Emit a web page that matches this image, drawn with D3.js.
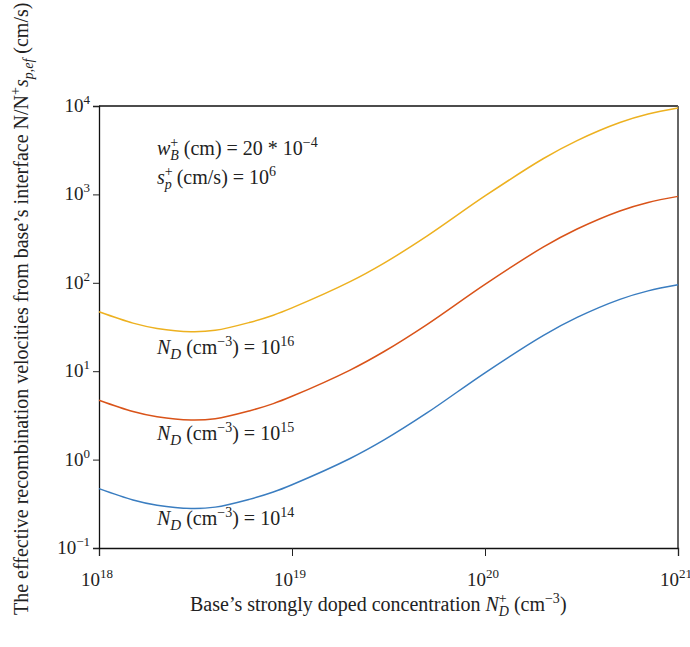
<!DOCTYPE html>
<html>
<head>
<meta charset="utf-8">
<script src="https://cdn.jsdelivr.net/npm/d3@7"></script>
<style>
  body { margin: 0; background: #fff; }
  svg text { font-family: "Liberation Serif", "DejaVu Serif", serif; fill: #222; }
</style>
</head>
<body>
<svg id="chart" width="690" height="647"></svg>
<script>
// Base doping N_D+ (cm^-3)
const dopings = [1e18, 1.5e18, 2e18, 3e18, 4e18, 6e18, 8e18, 1e19, 2e19, 3e19, 5e19, 1e20, 2e20, 3e20, 5e20, 7e20, 1e21];
// N/N+ s_p,ef (cm/s) for each N_D
const nd14 = [0.47, 0.35, 0.305, 0.28, 0.29, 0.355, 0.43, 0.52, 1.03, 1.67, 3.37, 9.6, 25.3, 40.6, 65, 81, 95];
const nd15 = [4.7, 3.5, 3.05, 2.8, 2.9, 3.55, 4.3, 5.2, 10.3, 16.7, 33.7, 96, 253, 406, 650, 810, 950];
const nd16 = [47, 35, 30.5, 28, 29, 35.5, 43, 52, 103, 167, 337, 960, 2530, 4060, 6500, 8100, 9500];

const seriesNames = ["14", "15", "16"];
const seriesColors = ["#3a7dc0", "#d95319", "#edb120"];

const xMajor = [18, 19, 20, 21];
const yMajor = [-1, 0, 1, 2, 3, 4];

const svg = d3.select("#chart");
const plotL = 99, plotR = 678, plotT = 106, plotB = 548;

const x = d3.scaleLog().domain([1e18, 1e21]).range([plotL, plotR]);
const y = d3.scaleLog().domain([0.1, 1e4]).range([plotB, plotT]);

// minor ticks (2..9 per decade)
const xMinor = [];
for (let e = 18; e < 21; e++) for (let m = 2; m < 10; m++) xMinor.push(m * Math.pow(10, e));
const yMinor = [];
for (let e = -1; e < 4; e++) for (let m = 2; m < 10; m++) yMinor.push(m * Math.pow(10, e));

// frame top + right
svg.append("line").attr("x1", plotL).attr("x2", plotR).attr("y1", plotT).attr("y2", plotT)
  .attr("stroke", "#111").attr("stroke-width", 1.3);
svg.append("line").attr("x1", plotR).attr("x2", plotR).attr("y1", plotT).attr("y2", plotB)
  .attr("stroke", "#666").attr("stroke-width", 2);

// x axis
const gx = svg.append("g").attr("transform", `translate(0,${plotB})`);
gx.call(d3.axisBottom(x).tickValues(xMinor).tickSize(5).tickFormat(""));
gx.call(d3.axisBottom(x).tickValues(xMajor.map(e => Math.pow(10, e))).tickSize(8).tickFormat(""));
gx.selectAll("path.domain").attr("stroke", "#111").attr("stroke-width", 1.3);
gx.selectAll(".tick line").attr("stroke", "#222");

// y axis
const gy = svg.append("g").attr("transform", `translate(${plotL},0)`);
gy.call(d3.axisLeft(y).tickValues(yMinor).tickSize(4).tickFormat(""));
gy.call(d3.axisLeft(y).tickValues(yMajor.map(e => Math.pow(10, e))).tickSize(6).tickFormat(""));
gy.selectAll("path.domain").attr("stroke", "#111").attr("stroke-width", 1.3);
gy.selectAll(".tick line").attr("stroke", "#222");

function powLabel(sel, exp) {
  sel.append("tspan").text("10");
  sel.append("tspan").attr("dy", "-8px").attr("font-size", "13px").text(exp < 0 ? "\u2212" + (-exp) : exp);
}

xMajor.forEach(e => {
  const t = svg.append("text").attr("x", x(Math.pow(10, e)) - 2).attr("y", 586)
    .attr("text-anchor", "middle").attr("font-size", "19px");
  powLabel(t, e);
});
yMajor.forEach(e => {
  const t = svg.append("text").attr("x", 90).attr("y", y(Math.pow(10, e)) + 6)
    .attr("text-anchor", "end").attr("font-size", "19px");
  powLabel(t, e);
});

// curves
const line = d3.line()
  .x(d => x(d[0]))
  .y(d => y(d[1]))
  .curve(d3.curveCatmullRom.alpha(0.5));

[nd14, nd15, nd16].forEach((vals, i) => {
  svg.append("path")
    .datum(dopings.map((d, j) => [d, vals[j]]))
    .attr("d", line)
    .attr("fill", "none")
    .attr("stroke", seriesColors[i])
    .attr("stroke-width", 1.5);
});

// text with sub/superscripts
function rich(xp, yp, parts, size) {
  const t = svg.append("text").attr("x", xp).attr("y", yp).attr("font-size", size + "px");
  parts.forEach(p => {
    const s = t.append("tspan").text(p.t);
    if (p.i) s.attr("font-style", "italic");
    if (p.dy) s.attr("dy", p.dy + "px");
    if (p.fs) s.attr("font-size", p.fs + "px");
    if (p.dx) s.attr("dx", p.dx + "px");
  });
  return t;
}

rich(157, 155, [
  { t: "w", i: 1 }, { t: "+", dy: -8, fs: 14 }, { t: "B", i: 1, dy: 13, dx: -8, fs: 14 },
  { t: " (cm) = 20 * 10", dy: -5 }, { t: "\u22124", dy: -8, fs: 14 }
], 20);
rich(157, 184, [
  { t: "s", i: 1 }, { t: "+", dy: -8, fs: 14 }, { t: "p", i: 1, dy: 13, dx: -8, fs: 14 },
  { t: " (cm/s) = 10", dy: -5 }, { t: "6", dy: -8, fs: 14 }
], 20);

const labelY = [525, 440, 354];
seriesNames.forEach((n, i) => {
  rich(157, labelY[i], [
    { t: "N", i: 1 }, { t: "D", i: 1, dy: 5, fs: 15 },
    { t: " (cm", dy: -5 }, { t: "\u22123", dy: -8, fs: 14 },
    { t: ") = 10", dy: 8 }, { t: n, dy: -8, fs: 14 }
  ], 20);
});

// x label
rich(190, 611, [
  { t: "Base\u2019s strongly doped concentration " }, { t: "N", i: 1 },
  { t: "+", dy: -8, fs: 14 }, { t: "D", i: 1, dy: 13, dx: -8, fs: 14 },
  { t: " (cm", dy: -5 }, { t: "\u22123", dy: -8, fs: 14 }, { t: ")", dy: 8 }
], 20);

// y label
const yl = svg.append("g").attr("transform", "translate(28,615) rotate(-90)");
const ylt = yl.append("text").attr("x", 0).attr("y", 0).attr("font-size", "20px");
ylt.append("tspan").text("The effective recombination velocities from base\u2019s interface N/N");
ylt.append("tspan").attr("dy", "-8px").attr("font-size", "14px").text("+");
ylt.append("tspan").attr("dy", "8px").attr("font-style", "italic").text("s");
ylt.append("tspan").attr("dy", "5px").attr("font-style", "italic").attr("font-size", "14px").text("p,ef");
ylt.append("tspan").attr("dy", "-5px").text(" (cm/s)");
</script>
</body>
</html>
